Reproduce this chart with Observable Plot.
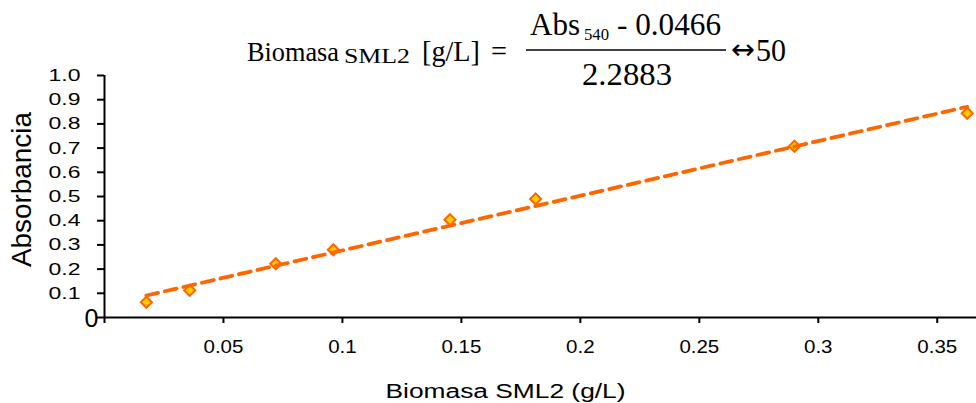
<!DOCTYPE html>
<html>
<head>
<meta charset="utf-8">
<script src="https://cdn.jsdelivr.net/npm/d3@7"></script>
<script src="https://cdn.jsdelivr.net/npm/@observablehq/plot@0.6"></script>
<style>
  html, body { margin: 0; padding: 0; background: #fff; }
  #wrap { position: relative; width: 976px; height: 403px; overflow: hidden; }
  #wrap > svg { position: absolute; left: 0; top: 0; }
  #eq { position: absolute; left: 0; top: 0; pointer-events: none; }
  #eq text { font-family: "Liberation Serif", "Times New Roman", serif; fill: #000; }
</style>
</head>
<body>
<div id="wrap"></div>
<script>
// ---- data ----
const biomasa = [0.0176, 0.0358, 0.0720, 0.0962, 0.1452, 0.1812, 0.2900, 0.3626];
const absorbancia = [0.063, 0.112, 0.222, 0.280, 0.404, 0.490, 0.708, 0.844];
const xTicks = [0, 0.05, 0.1, 0.15, 0.2, 0.25, 0.3, 0.35];
const xTickLabels = ["", "0.05", "0.1", "0.15", "0.2", "0.25", "0.3", "0.35"];
const yTicks = [0, 0.1, 0.2, 0.3, 0.4, 0.5, 0.6, 0.7, 0.8, 0.9, 1.0];
const yTickLabels = ["", "0.1", "0.2", "0.3", "0.4", "0.5", "0.6", "0.7", "0.8", "0.9", "1.0"];
const zeroLabel = "0";
const xLabel = "Biomasa SML2 (g/L)";
const yLabel = "Absorbancia";

const data = biomasa.map((x, i) => ({x, y: absorbancia[i]}));
const xFmt = new Map(xTicks.map((t, i) => [t, xTickLabels[i]]));
const yFmt = new Map(yTicks.map((t, i) => [t, yTickLabels[i]]));

const ORANGE = "#FF6600";
const YELLOW = "#FFCC00";

const chart = Plot.plot({
  width: 976,
  height: 403,
  marginLeft: 104,
  marginRight: 0,
  marginTop: 75,
  marginBottom: 86,
  style: {fontFamily: "'Liberation Sans', Arial, sans-serif", fontSize: "17px", color: "#000", background: "#fff", overflow: "visible"},
  x: {domain: [0, 0.3665]},
  y: {domain: [0, 1]},
  marks: [
    Plot.axisY({ticks: yTicks, tickFormat: d => yFmt.get(d), tickSize: 7, tickPadding: 17, strokeWidth: 2, fontSize: 17, label: null}),
    Plot.axisX({ticks: xTicks, tickFormat: d => xFmt.get(d), tickSize: 6, tickPadding: 16, strokeWidth: 2, fontSize: 19, label: null}),
    Plot.ruleX([0], {stroke: "#000", strokeWidth: 2}),
    Plot.ruleY([0], {stroke: "#000", strokeWidth: 2}),
    Plot.text([zeroLabel], {text: d => d, frameAnchor: "bottom-left", textAnchor: "end", lineAnchor: "middle", dx: -6, dy: 1, fontSize: 25, fill: "#000"}),
    Plot.dot(data, {x: "x", y: "y", symbol: "diamond2", r: 5, fill: YELLOW, stroke: ORANGE, strokeWidth: 2}),
    Plot.linearRegressionY(data, {x: "x", y: "y", stroke: ORANGE, strokeWidth: 3.8, strokeDasharray: "12,7", ci: 0}),
    Plot.text([xLabel], {text: d => d, frameAnchor: "bottom", textAnchor: "middle", dx: -35, dy: 80, lineAnchor: "bottom", fontSize: 20, fill: "#000"}),
    Plot.text([yLabel], {text: d => d, frameAnchor: "left", textAnchor: "middle", rotate: -90, dx: -74, dy: -7, lineAnchor: "bottom", fontSize: 28, fill: "#000"})
  ]
});

const wrap = document.getElementById("wrap");
wrap.appendChild(chart);

// the horizontal stretch of the texts seen in the reference
function fit(t, target) {
  t.setAttribute("textLength", target.toFixed(1));
  t.setAttribute("lengthAdjust", "spacingAndGlyphs");
}
chart.querySelectorAll("text").forEach(t => {
  const s = t.textContent;
  if (!s) return;
  const anchor = getComputedStyle(t).textAnchor;
  if (s === xLabel) fit(t, 240);
  else if (s === yLabel) fit(t, 155);
  else if (s === zeroLabel) return;
  else if (anchor === "end" && yTickLabels.includes(s)) fit(t, t.getComputedTextLength() * 1.35);
  else if (anchor === "middle" && xTickLabels.includes(s)) fit(t, t.getComputedTextLength() * 1.08);
});

// equation annotation above the plot
const NS = "http://www.w3.org/2000/svg";
const eq = document.createElementNS(NS, "svg");
eq.setAttribute("id", "eq");
eq.setAttribute("width", 976);
eq.setAttribute("height", 403);
const pieces = [
  {t: "Biomasa", x: 247, y: 61, fs: 27, w: 92},
  {t: "SML2", x: 344, y: 63, fs: 20, w: 66},
  {t: "[g/L]", x: 422, y: 61, fs: 29, w: 58},
  {t: "=", x: 491, y: 61, fs: 29, w: 16},
  {t: "Abs", x: 530, y: 35, fs: 31, w: 50},
  {t: "540", x: 584, y: 40, fs: 17, w: 25},
  {t: "- 0.0466", x: 617, y: 35, fs: 31, w: 104},
  {t: "2.2883", x: 582, y: 85, fs: 31, w: 90},
  {t: "\u2194", x: 731, y: 59, fs: 28, w: 24, ff: "'DejaVu Sans', sans-serif"},
  {t: "50", x: 756, y: 61, fs: 31, w: 30}
];
for (const p of pieces) {
  const el = document.createElementNS(NS, "text");
  el.setAttribute("x", p.x);
  el.setAttribute("y", p.y);
  el.setAttribute("font-size", p.fs);
  if (p.ff) el.style.fontFamily = p.ff;
  el.setAttribute("textLength", p.w);
  el.setAttribute("lengthAdjust", "spacingAndGlyphs");
  el.textContent = p.t;
  eq.appendChild(el);
}
const ln = document.createElementNS(NS, "line");
ln.setAttribute("x1", 526); ln.setAttribute("x2", 726);
ln.setAttribute("y1", 50); ln.setAttribute("y2", 50);
ln.setAttribute("stroke", "#000"); ln.setAttribute("stroke-width", 1.5);
eq.appendChild(ln);
wrap.appendChild(eq);
</script>
</body>
</html>
